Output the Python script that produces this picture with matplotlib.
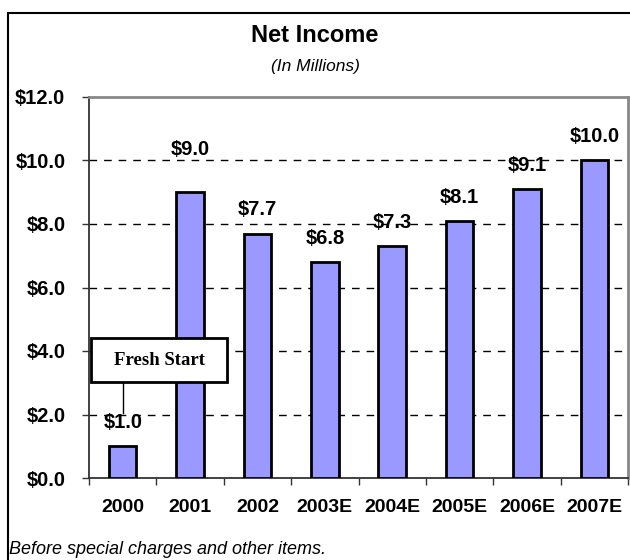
import numpy as np
import matplotlib
matplotlib.use("Agg")
import matplotlib.pyplot as plt
from matplotlib.patches import Rectangle

# chart data
years = ["2000", "2001", "2002", "2003E", "2004E", "2005E", "2006E", "2007E"]
net_income = [1.0, 9.0, 7.7, 6.8, 7.3, 8.1, 9.1, 10.0]
value_labels = ["$1.0", "$9.0", "$7.7", "$6.8", "$7.3", "$8.1", "$9.1", "$10.0"]
y_ticks = [0, 2, 4, 6, 8, 10, 12]
y_tick_labels = ["$0.0", "$2.0", "$4.0", "$6.0", "$8.0", "$10.0", "$12.0"]

plt.rcParams["font.family"] = ["Liberation Sans", "DejaVu Sans"]

fig = plt.figure(figsize=(6.3, 5.6), dpi=100)
ax = fig.add_axes([89 / 630, 1 - 478 / 560, (628 - 89) / 630, (478 - 97) / 560])

x = np.arange(len(years))
ax.bar(x, net_income, width=0.41, color="#9999FF", edgecolor="black", linewidth=2, zorder=3)

# value labels above bars (2001 sits higher, as in the original)
offsets = [17, 31, 17, 17, 17, 17, 17, 17]
for xi, v, lab, off in zip(x, net_income, value_labels, offsets):
    ax.annotate(lab, (xi, v), xytext=(0, off), textcoords="offset points",
                ha="center", va="center", fontsize=14.5, fontweight="bold", zorder=6)

ax.set_xlim(-0.5, len(years) - 0.5)
ax.set_ylim(0, 12)

# dashed gridlines
for yv in y_ticks[1:-1]:
    ax.axhline(yv, color="black", linestyle=(0, (5.5, 5)), linewidth=1.0, zorder=1)

ax.set_yticks(y_ticks)
ax.set_yticklabels(y_tick_labels, fontsize=14.5, fontweight="bold")
ax.tick_params(axis="y", length=5, width=1, pad=12, color="#333333")

ax.set_xticks(x)
ax.set_xticklabels(years, fontsize=14, fontweight="bold")
ax.set_xticks(np.arange(-0.5, len(years)), minor=True)
ax.tick_params(axis="x", which="major", length=0, pad=15)
ax.tick_params(axis="x", which="minor", length=5, width=1, color="#333333")

for s in ["left", "bottom"]:
    ax.spines[s].set_color("#333333")
    ax.spines[s].set_linewidth(1.3)
for s in ["top", "right"]:
    ax.spines[s].set_color("#888888")
    ax.spines[s].set_linewidth(2)

# titles
fig.text(315 / 630, 1 - 35 / 560, "Net Income", ha="center", va="center",
         fontsize=17, fontweight="bold")
fig.text(315 / 630, 1 - 66 / 560, "(In Millions)", ha="center", va="center",
         fontsize=12.5, style="italic")

# Fresh Start callout: box in data units, leader line down to the 2000 bar
box_x0, box_x1 = -0.47, 1.55
box_y0, box_y1 = 3.02, 4.41
ax.plot([0, 0], [2.05, box_y0], color="black", lw=1, zorder=5)
ax.add_patch(Rectangle((box_x0, box_y0), box_x1 - box_x0, box_y1 - box_y0,
                       facecolor="white", edgecolor="black", lw=2, zorder=5))
ax.text((box_x0 + box_x1) / 2, (box_y0 + box_y1) / 2, "Fresh Start",
        ha="center", va="center", fontsize=13.5, fontweight="bold",
        family=["Liberation Serif", "DejaVu Serif"], zorder=6)

# footer note
fig.text(9 / 630, 1 - 550 / 560, "Before special charges and other items.",
         ha="left", va="center", fontsize=13, style="italic")

# outer border (extends past right/bottom edge)
fig.patches.append(Rectangle((8 / 630, -0.05), 1.0, 1 - 13 / 560 + 0.05,
                             transform=fig.transFigure, fill=False,
                             edgecolor="black", linewidth=1.5))

fig.savefig("out.png", dpi=100)
